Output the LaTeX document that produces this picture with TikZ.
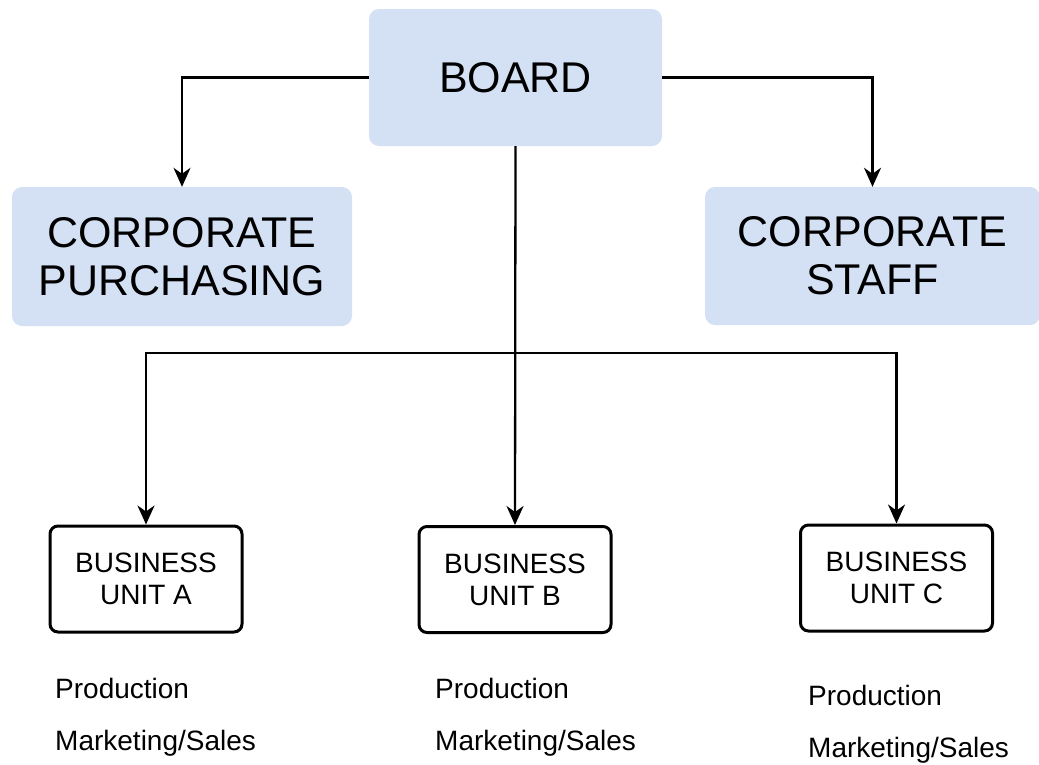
\documentclass[tikz,border=0pt]{standalone}
\usepackage{fontspec}
\setmainfont{Liberation Sans}
\usetikzlibrary{arrows.meta}
\definecolor{boardblue}{HTML}{D4E1F5}
\tikzset{
  bluebox/.style={fill=boardblue, rounded corners=10pt, inner sep=0pt, align=center,
    font=\fontsize{43}{48}\selectfont},
  unitbox/.style={draw=black, line width=3pt, rounded corners=8pt, inner sep=0pt,
    align=center, minimum width=192pt, minimum height=106pt,
    font=\fontsize{28}{32}\selectfont},
  note/.style={anchor=base west, inner sep=0pt, font=\fontsize{28}{32}\selectfont},
  link/.style={draw=black, line width=2.3pt,
    -{Stealth[length=19pt, width=17pt, inset=6pt]}}
}
\begin{document}
\begin{tikzpicture}[x=1pt, y=-1pt]
  \useasboundingbox (0,0) rectangle (1039,764);

  % top level and corporate functions
  \node[bluebox, minimum width=293pt, minimum height=137pt] (board) at (515.5,77.5) {BOARD};
  \node[bluebox, minimum width=340pt, minimum height=139pt] (purch) at (182,256.5) {CORPORATE\\PURCHASING};
  \node[bluebox, minimum width=335pt, minimum height=138pt] (staff) at (872.5,256) {CORPORATE\\STAFF};

  % business units
  \node[unitbox] (unitA) at (146,579) {BUSINESS\\UNIT A};
  \node[unitbox] (unitB) at (515,579.5) {BUSINESS\\UNIT B};
  \node[unitbox] (unitC) at (896.5,578) {BUSINESS\\UNIT C};

  % functions listed under each unit
  \node[note] (prodA) at (55,698) {Production};
  \node[note] (mktA) at (55,750) {Marketing/Sales};
  \node[note] (prodB) at (435,698) {Production};
  \node[note] (mktB) at (435,750) {Marketing/Sales};
  \node[note] (prodC) at (808,705) {Production};
  \node[note] (mktC) at (808,757) {Marketing/Sales};

  % connectors
  \coordinate (split) at (515,353);
  \draw[link] (board.west) -| (purch.north);
  \draw[link] (board.east) -| (staff.north);
  \draw[link] (board.south) -- (unitB.north);
  \draw[link] (split) -| (unitA.north);
  \draw[link] (split) -| (unitC.north);
\end{tikzpicture}
\end{document}
